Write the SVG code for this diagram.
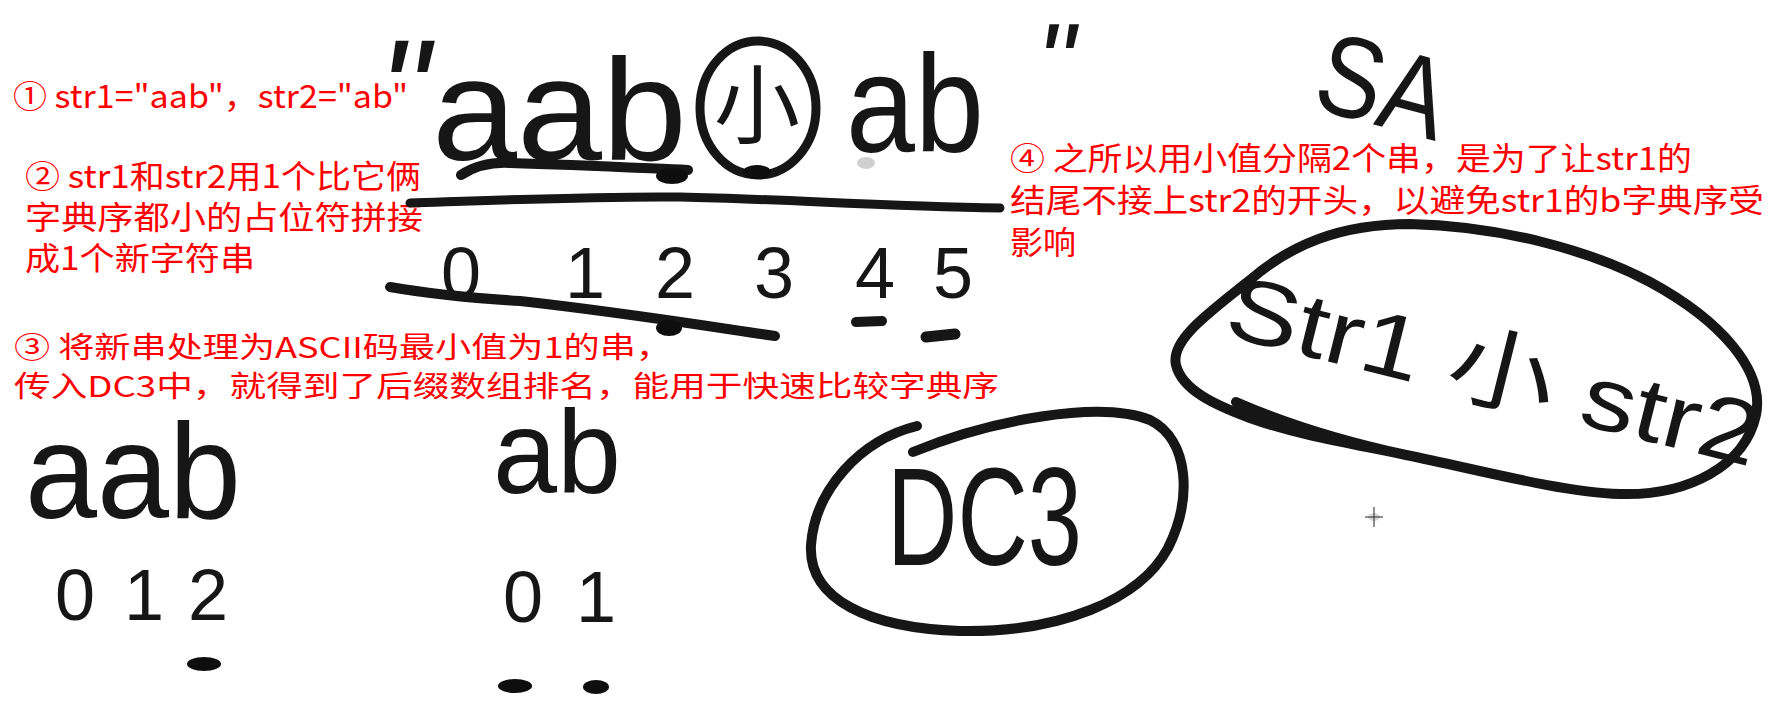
<svg xmlns="http://www.w3.org/2000/svg" width="1786" height="714" viewBox="0 0 1786 714">
<style>
.red{fill:#ff0000;font-family:"Noto Sans CJK SC","Noto Sans",sans-serif;font-size:32px}
.red3{font-size:29px}
.hand{fill:#161616;font-family:"Liberation Sans","Noto Sans CJK SC",sans-serif}
.ink{stroke:#161616;fill:none;stroke-linecap:round;stroke-linejoin:round}
.blob{fill:#0e0e0e}
</style>
<rect width="1786" height="714" fill="#ffffff"/>

<g id="notes">
<text class="red" x="13" y="108" textLength="395" lengthAdjust="spacingAndGlyphs">① str1="aab"，str2="ab"</text>
<text class="red" x="25" y="188" textLength="396" lengthAdjust="spacingAndGlyphs">② str1和str2用1个比它俩</text>
<text class="red" x="25" y="229" textLength="398" lengthAdjust="spacingAndGlyphs">字典序都小的占位符拼接</text>
<text class="red" x="25" y="270" textLength="230" lengthAdjust="spacingAndGlyphs">成1个新字符串</text>
<text class="red red3" x="14" y="358" textLength="658" lengthAdjust="spacingAndGlyphs">③ 将新串处理为ASCII码最小值为1的串，</text>
<text class="red red3" x="14" y="397" textLength="985" lengthAdjust="spacingAndGlyphs">传入DC3中，就得到了后缀数组排名，能用于快速比较字典序</text>
<text class="red" x="1010" y="170" textLength="682" lengthAdjust="spacingAndGlyphs">④ 之所以用小值分隔2个串，是为了让str1的</text>
<text class="red" x="1010" y="212" textLength="754" lengthAdjust="spacingAndGlyphs">结尾不接上str2的开头，以避免str1的b字典序受</text>
<text class="red" x="1010" y="254" textLength="66" lengthAdjust="spacingAndGlyphs">影响</text>
</g>

<g id="concat">
<text class="hand" x="378" y="140" font-size="145" font-style="italic">"</text>
<text class="hand" x="1036" y="100" font-size="110" font-style="italic">"</text>
<text class="hand" x="432" y="160" font-size="145" textLength="255" lengthAdjust="spacingAndGlyphs">aab</text>
<ellipse class="ink" cx="758" cy="108" rx="58" ry="67" stroke-width="9"/>
<text class="hand" x="757" y="137" font-size="86" text-anchor="middle">小</text>
<text class="hand" x="846" y="152" font-size="140" textLength="138" lengthAdjust="spacingAndGlyphs">ab</text>
<path class="ink" stroke-width="10" d="M461,175 C475,166 490,162 510,163 C580,165 640,168 688,170"/>
<ellipse class="blob" cx="672" cy="176" rx="16" ry="8"/>
<ellipse class="blob" cx="757" cy="172" rx="14" ry="7"/>
<ellipse cx="866" cy="163" rx="9" ry="6" fill="#d0d0d0"/>
<path class="ink" stroke-width="9" d="M410,203 C500,200 600,196 680,197 C780,199 880,206 1000,208"/>
<text class="hand" y="298" font-size="72" text-anchor="middle" x="461 585 675 774 875 953">012345</text>
<path class="ink" stroke-width="10" d="M390,287 C430,294 470,298 520,301 C620,312 700,325 775,336"/>
<ellipse class="blob" cx="669" cy="328" rx="13" ry="8"/>
<path class="ink" stroke-width="10" d="M856,322 L882,321"/>
<path class="ink" stroke-width="11" d="M926,337 L955,334"/>
</g>

<g id="sa">
<text class="hand" x="1317" y="125" font-size="115" textLength="130" lengthAdjust="spacingAndGlyphs" transform="rotate(15 1380 90)">SA</text>
</g>

<g id="split">
<text class="hand" x="25" y="518" font-size="135" textLength="216" lengthAdjust="spacingAndGlyphs">aab</text>
<text class="hand" y="620" font-size="72" text-anchor="middle" x="75 144 208">012</text>
<ellipse class="blob" cx="204" cy="664" rx="17" ry="7"/>
<text class="hand" x="493" y="493" font-size="118" textLength="128" lengthAdjust="spacingAndGlyphs">ab</text>
<text class="hand" y="622" font-size="72" text-anchor="middle" x="523 596">01</text>
<ellipse class="blob" cx="515" cy="686" rx="17" ry="7"/>
<ellipse class="blob" cx="596" cy="687" rx="13" ry="7"/>
</g>

<g id="dc3">
<path class="ink" stroke-width="10" d="M917,426 C860,440 815,490 811,545 C808,600 870,628 960,631 C1060,633 1140,600 1168,548 C1192,500 1190,440 1150,420 C1100,400 990,420 913,452"/>
<text class="hand" x="887" y="565" font-size="140" textLength="195" lengthAdjust="spacingAndGlyphs">DC3</text>
</g>

<g id="joined">
<path class="ink" stroke-width="10" d="M1236,402 C1300,430 1360,445 1406,455 C1480,470 1560,492 1620,494 C1690,496 1745,465 1756,415 C1765,370 1720,320 1650,282 C1590,250 1500,226 1410,224 C1340,224 1290,245 1250,280 C1210,312 1170,340 1176,365 C1182,390 1215,405 1250,418 C1300,436 1360,445 1406,455"/>
<text class="hand" x="1222" y="335" font-size="90" textLength="545" lengthAdjust="spacingAndGlyphs" transform="rotate(14 1222 335)">Str1 小 str2</text>
</g>

<g id="cursor">
<ellipse cx="1374" cy="517" rx="6" ry="4" fill="#d8d8d8"/>
<path d="M1365,517 H1383 M1374,507 V527" stroke="#222" stroke-width="1" fill="none"/>
</g>
</svg>
